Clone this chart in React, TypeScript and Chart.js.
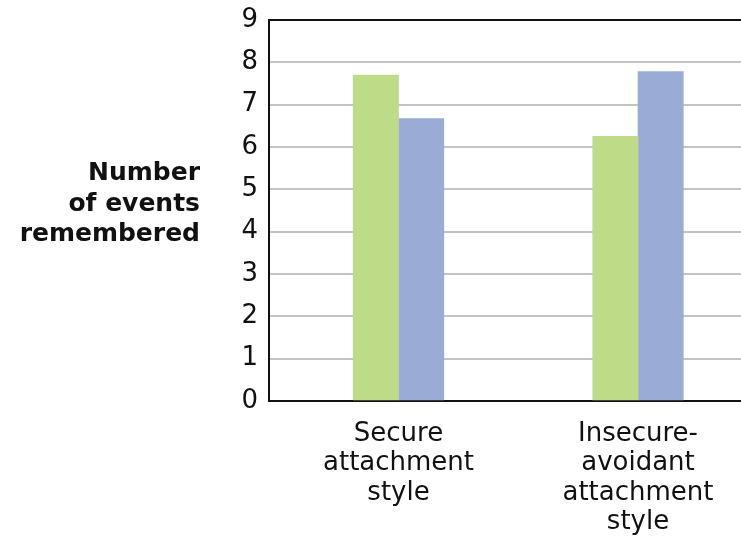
import React, { useEffect, useRef } from 'react';
import { Chart, registerables } from 'chart.js';

Chart.register(...registerables);

// ---- data ----
const categoryLabels: string[][] = [
  ['Secure', 'attachment', 'style'],
  ['Insecure-', 'avoidant', 'attachment', 'style'],
];
const greenValues = [7.7, 6.25];
const blueValues = [6.67, 7.78];
const yTickValues = [0, 1, 2, 3, 4, 5, 6, 7, 8, 9];
const yTitleLines = ['Number', 'of events', 'remembered'];

// ---- layout (positions of the category groups on a 0..1 axis) ----
const categoryPositions = [0.2744, 0.7818];

const GREEN = '#BEDB88';
const BLUE = '#9AACD6';
const FONT = '"DejaVu Sans", sans-serif';

const titlePlugin = {
  id: 'yTitleHorizontal',
  afterDraw(chart: any) {
    const ctx = chart.ctx;
    ctx.save();
    ctx.font = `bold 25px ${FONT}`;
    ctx.fillStyle = '#111';
    ctx.textAlign = 'right';
    ctx.textBaseline = 'alphabetic';
    const baselines = [180, 210.5, 241];
    yTitleLines.forEach((t, i) => ctx.fillText(t, 200, baselines[i]));
    ctx.restore();
  },
};

export default function App() {
  const ref = useRef<HTMLCanvasElement | null>(null);

  useEffect(() => {
    if (!ref.current) return;
    const chart = new Chart(ref.current, {
      type: 'bar',
      data: {
        datasets: [
          {
            label: 'A',
            data: greenValues.map((v, i) => ({ x: categoryPositions[i], y: v })),
            backgroundColor: GREEN,
            borderWidth: 0,
            barThickness: 45.3,
          },
          {
            label: 'B',
            data: blueValues.map((v, i) => ({ x: categoryPositions[i], y: v })),
            backgroundColor: BLUE,
            borderWidth: 0,
            barThickness: 45.3,
          },
        ],
      },
      options: {
        responsive: false,
        animation: false,
        devicePixelRatio: 1,
        layout: { padding: { top: 20, left: 0, right: 0, bottom: 0 } },
        plugins: {
          legend: { display: false },
          tooltip: { enabled: false },
          title: { display: false },
        },
        scales: {
          x: {
            type: 'linear',
            min: 0,
            max: 1,
            offset: false,
            afterBuildTicks: (scale: any) => {
              scale.ticks = categoryPositions.map((v) => ({ value: v }));
            },
            afterFit: (scale: any) => {
              scale.height = 138;
              scale.paddingLeft = 0;
              scale.paddingRight = 0;
            },
            grid: { display: false, drawTicks: false, offset: false },
            border: { display: true, color: '#111', width: 2 },
            ticks: {
              autoSkip: false,
              maxRotation: 0,
              minRotation: 0,
              padding: 18,
              color: '#111',
              font: { family: FONT, size: 26, lineHeight: 1.135 },
              callback: (_v: any, i: number) => categoryLabels[i],
            },
          },
          y: {
            min: 0,
            max: 9,
            afterBuildTicks: (scale: any) => {
              scale.ticks = yTickValues.map((v) => ({ value: v }));
            },
            afterFit: (scale: any) => {
              scale.width = 269;
              scale.paddingTop = 0;
              scale.paddingBottom = 0;
            },
            grid: {
              drawTicks: false,
              lineWidth: 2,
              color: (c: any) => (c.tick && c.tick.value === 9 ? '#111' : '#C4C4C4'),
            },
            border: { display: true, color: '#111', width: 2 },
            ticks: {
              padding: 11,
              color: '#111',
              font: { family: FONT, size: 26 },
              callback: (v: any) => String(v),
            },
          },
        },
      },
      plugins: [titlePlugin],
    } as any);
    return () => chart.destroy();
  }, []);

  return (
    <div style={{ position: 'absolute', left: 0, top: 0, width: 741, height: 539, background: '#fff' }}>
      <canvas ref={ref} width={741} height={539} style={{ display: 'block', width: 741, height: 539 }} />
    </div>
  );
}
